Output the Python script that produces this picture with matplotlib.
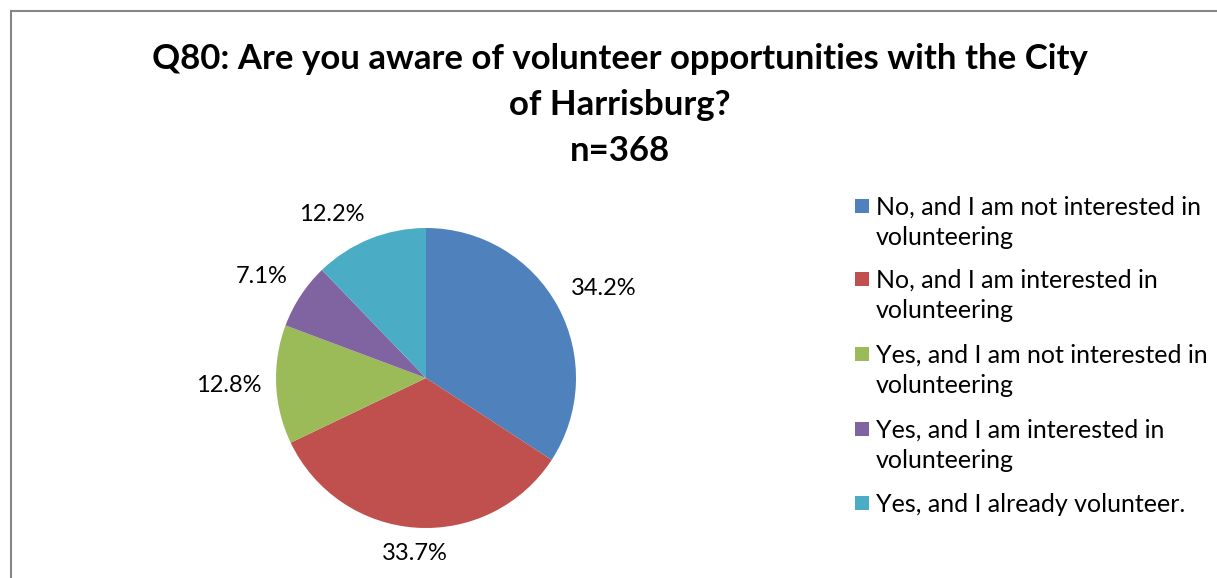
import matplotlib
matplotlib.use("Agg")
import matplotlib.pyplot as plt
from matplotlib.patches import Rectangle
import numpy as np

# Survey responses (share of respondents, %)
categories = [
    "No, and I am not interested in\nvolunteering",
    "No, and I am interested in\nvolunteering",
    "Yes, and I am not interested in\nvolunteering",
    "Yes, and I am interested in\nvolunteering",
    "Yes, and I already volunteer.",
]
shares = [34.2, 33.7, 12.8, 7.1, 12.2]
colors = ["#4F81BD", "#C0504D", "#9BBB59", "#8064A2", "#4BACC6"]
title_lines = [
    "Q80: Are you aware of volunteer opportunities with the City",
    "of Harrisburg?",
    "n=368",
]

FONT = "Lato"
W, H = 1217, 578
fig = plt.figure(figsize=(W / 100, H / 100), dpi=100)
fig.patch.set_facecolor("white")

# chart frame (left and top edges visible)
fig.add_artist(plt.Line2D([11 / W, 11 / W], [0, 1 - 11 / H], color="#868686",
                          lw=1.5, transform=fig.transFigure))
fig.add_artist(plt.Line2D([11 / W, 1], [1 - 11 / H, 1 - 11 / H], color="#868686",
                          lw=1.5, transform=fig.transFigure))

# pie axes: radius 150 px, centred at (426, 378) px from top-left
R = 150
cx, cy = 426, 378
half = 1.25 * R
ax = fig.add_axes([(cx - half) / W, (H - cy - half) / H, 2 * half / W, 2 * half / H])
ax.set_xlim(-1.25, 1.25)
ax.set_ylim(-1.25, 1.25)
ax.set_aspect("equal")
ax.axis("off")

wedges, _ = ax.pie(shares, colors=colors, startangle=90, counterclock=False,
                   radius=1.0, wedgeprops=dict(linewidth=0))

for w, v in zip(wedges, shares):
    ang = np.deg2rad((w.theta1 + w.theta2) / 2)
    dx, dy = np.cos(ang), np.sin(ang)
    ha = "left" if dx > 0.3 else ("right" if dx < -0.3 else "center")
    va = "bottom" if dy > 0.3 else ("top" if dy < -0.3 else "center")
    ax.text(1.1 * dx, 1.1 * dy, f"{v:.1f}%", ha=ha, va=va, fontsize=17,
            family=FONT, color="black", clip_on=False)

# title
title_y = [69, 115, 161]
for line, y in zip(title_lines, title_y):
    fig.text(620 / W, 1 - y / H, line, ha="center", va="baseline",
             fontsize=25, fontweight="bold", family=FONT)

# legend: square marker plus label, one text per line
leg_base = [215, 288, 363, 438, 512]
line_gap = 30
for lab, col, y in zip(categories, colors, leg_base):
    fig.patches.append(Rectangle((855 / W, 1 - (y - 2) / H), 14 / W, 14 / H,
                                 transform=fig.transFigure, facecolor=col,
                                 edgecolor="none"))
    for i, part in enumerate(lab.split("\n")):
        fig.text(876 / W, 1 - (y + i * line_gap) / H, part, ha="left",
                 va="baseline", fontsize=18, family=FONT)

fig.savefig("out.png", dpi=100, facecolor="white")
